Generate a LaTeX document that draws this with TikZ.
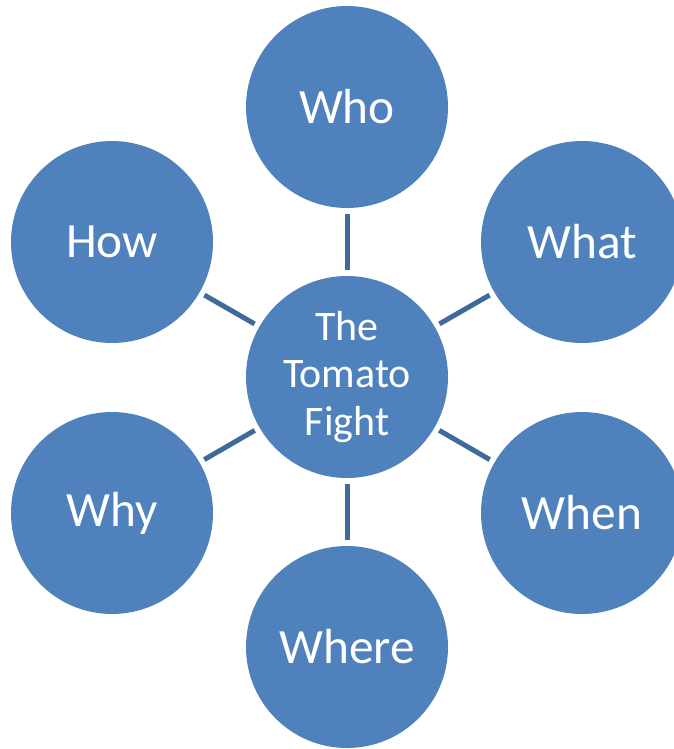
\documentclass[tikz,border=0pt]{standalone}
\usepackage{fontspec}
\setmainfont{Carlito}
\definecolor{bubble}{RGB}{79,129,189}
\definecolor{link}{RGB}{64,106,153}
\begin{document}
\begin{tikzpicture}[x=0.75pt,y=-0.75pt,
  bub/.style={circle,fill=bubble,minimum size=151.5pt,inner sep=0pt,text=white,font=\fontsize{37}{44}\selectfont},
  hub/.style={circle,fill=bubble,minimum size=151.5pt,inner sep=0pt,text=white,align=center,font=\fontsize{31.5}{35.5}\selectfont},
  conn/.style={draw=link,line width=3.75pt,shorten <=4pt,shorten >=4pt}]
\useasboundingbox (0,0) rectangle (674,749);
\clip (0,0) rectangle (674,749);
\node[hub] (c) at (347,377) {The\\Tomato\\Fight};
\node[bub] (who) at (347,107) {Who};
\node[bub] (what) at (582,242) {What};
\node[bub] (when) at (582,513) {When};
\node[bub] (where) at (347,647) {Where};
\node[bub] (why) at (112,513) {Why};
\node[bub] (how) at (112,242) {How};
\foreach \n in {who,what,when,where,why,how}{\draw[conn] (c) -- (\n);}
\end{tikzpicture}
\end{document}
